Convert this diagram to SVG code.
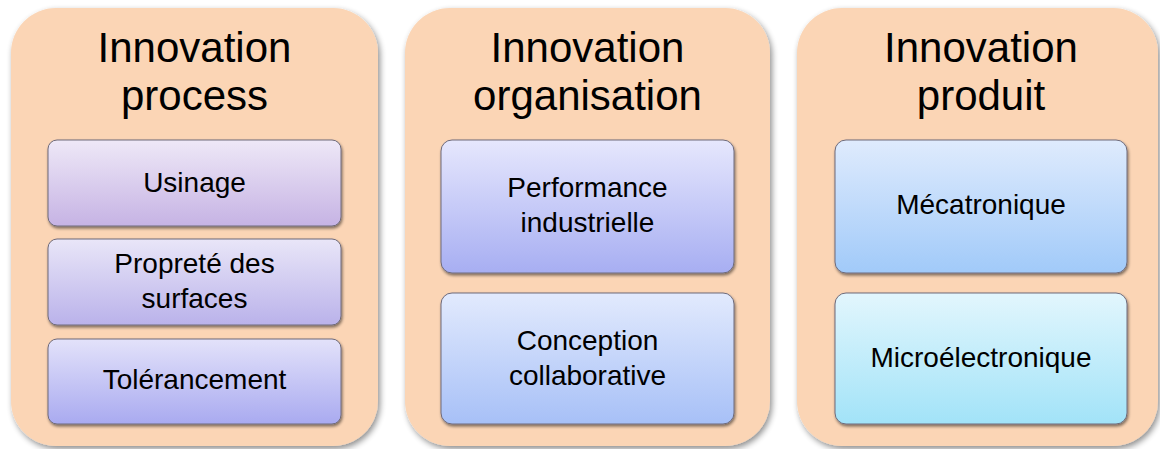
<svg xmlns="http://www.w3.org/2000/svg" width="1160" height="449" viewBox="0 0 1160 449">
<defs>
<filter id="sh" x="-10%" y="-10%" width="125%" height="125%">
<feGaussianBlur in="SourceAlpha" stdDeviation="3"/>
<feOffset dx="2" dy="3" result="b"/>
<feComponentTransfer><feFuncA type="linear" slope="0.45"/></feComponentTransfer>
<feMerge><feMergeNode/><feMergeNode in="SourceGraphic"/></feMerge>
</filter>
<filter id="sh2" x="-10%" y="-10%" width="125%" height="130%">
<feGaussianBlur in="SourceAlpha" stdDeviation="1.5"/>
<feOffset dx="1" dy="2" result="b"/>
<feComponentTransfer><feFuncA type="linear" slope="0.5"/></feComponentTransfer>
<feMerge><feMergeNode/><feMergeNode in="SourceGraphic"/></feMerge>
</filter>
<linearGradient id="g1" x1="0" y1="0" x2="0" y2="1"><stop offset="0" stop-color="#EEE8F7"/><stop offset="1" stop-color="#C6B3E4"/></linearGradient>
<linearGradient id="g2" x1="0" y1="0" x2="0" y2="1"><stop offset="0" stop-color="#E9E6F8"/><stop offset="1" stop-color="#BAB2EA"/></linearGradient>
<linearGradient id="g3" x1="0" y1="0" x2="0" y2="1"><stop offset="0" stop-color="#E3E2FA"/><stop offset="1" stop-color="#A9AAF0"/></linearGradient>
<linearGradient id="g4" x1="0" y1="0" x2="0" y2="1"><stop offset="0" stop-color="#E6E7FD"/><stop offset="1" stop-color="#A7AEF2"/></linearGradient>
<linearGradient id="g5" x1="0" y1="0" x2="0" y2="1"><stop offset="0" stop-color="#E2EAFD"/><stop offset="1" stop-color="#A7C0F7"/></linearGradient>
<linearGradient id="g6" x1="0" y1="0" x2="0" y2="1"><stop offset="0" stop-color="#DFEBFD"/><stop offset="1" stop-color="#A1CAF9"/></linearGradient>
<linearGradient id="g7" x1="0" y1="0" x2="0" y2="1"><stop offset="0" stop-color="#E2F6FD"/><stop offset="1" stop-color="#A2E3F8"/></linearGradient>
</defs>
<style>
.panel{fill:#FBD5B5;filter:url(#sh)}
.box{stroke:#6E6A7A;stroke-width:1;filter:url(#sh2)}
.title{font-family:"Liberation Sans",Arial,sans-serif;font-size:42px;fill:#000;text-anchor:middle}
.lbl{font-family:"Liberation Sans",Arial,sans-serif;font-size:28px;fill:#000;text-anchor:middle}
</style>
<g id="panel-process">
<rect class="panel" x="11" y="8" width="367" height="438" rx="45"/>
<text class="title" x="194.5" y="62">Innovation</text>
<text class="title" x="194.5" y="110">process</text>
</g>
<g id="panel-organisation">
<rect class="panel" x="405" y="8" width="365" height="438" rx="45"/>
<text class="title" x="587.5" y="62">Innovation</text>
<text class="title" x="587.5" y="110">organisation</text>
</g>
<g id="panel-produit">
<rect class="panel" x="797" y="8" width="361" height="438" rx="45"/>
<text class="title" x="981" y="62">Innovation</text>
<text class="title" x="981" y="110">produit</text>
</g>
<g id="usinage">
<rect class="box" x="48" y="140" width="293" height="86" rx="9" fill="url(#g1)"/>
<text class="lbl" x="194.5" y="192">Usinage</text>
</g>
<g id="proprete">
<rect class="box" x="48" y="239" width="293" height="86" rx="9" fill="url(#g2)"/>
<text class="lbl" x="194.5" y="273">Propreté des</text>
<text class="lbl" x="194.5" y="308">surfaces</text>
</g>
<g id="tolerancement">
<rect class="box" x="48" y="339" width="293" height="85" rx="9" fill="url(#g3)"/>
<text class="lbl" x="194.5" y="389">Tolérancement</text>
</g>
<g id="performance">
<rect class="box" x="441" y="140" width="293" height="133" rx="11" fill="url(#g4)"/>
<text class="lbl" x="587.5" y="197">Performance</text>
<text class="lbl" x="587.5" y="232">industrielle</text>
</g>
<g id="conception">
<rect class="box" x="441" y="293" width="293" height="131" rx="11" fill="url(#g5)"/>
<text class="lbl" x="587.5" y="350">Conception</text>
<text class="lbl" x="587.5" y="385">collaborative</text>
</g>
<g id="mecatronique">
<rect class="box" x="835" y="140" width="292" height="133" rx="11" fill="url(#g6)"/>
<text class="lbl" x="981" y="214">Mécatronique</text>
</g>
<g id="microelectronique">
<rect class="box" x="835" y="293" width="292" height="131" rx="11" fill="url(#g7)"/>
<text class="lbl" x="981" y="367">Microélectronique</text>
</g>
<g id="connectors"/>
</svg>
